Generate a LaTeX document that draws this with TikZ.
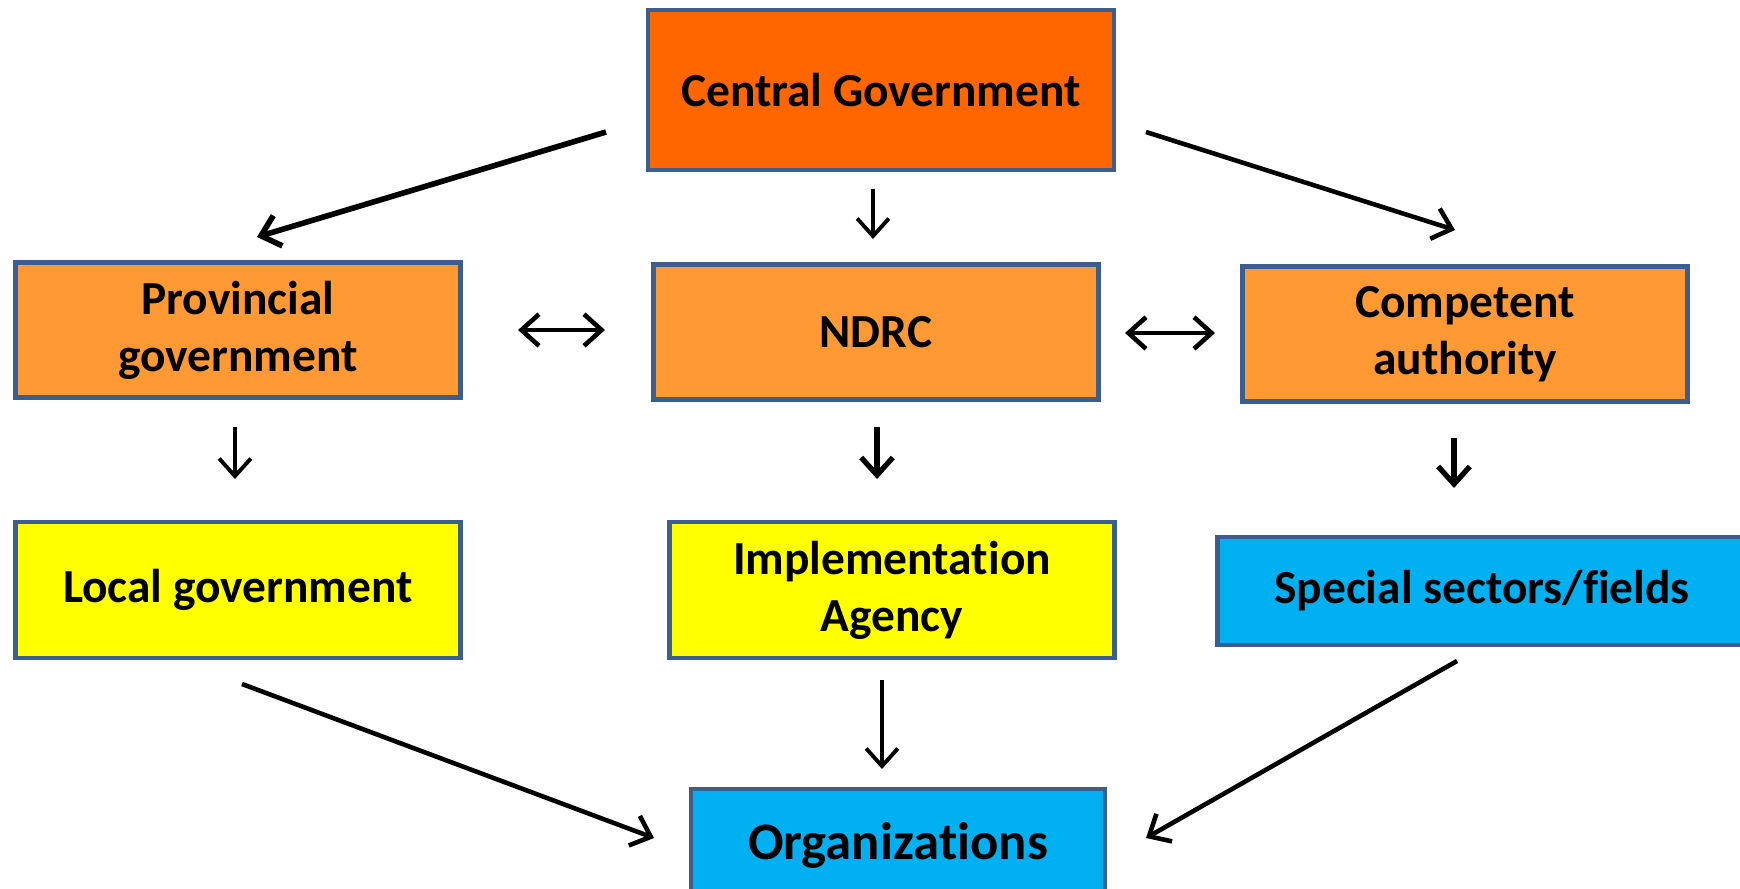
\documentclass[tikz,border=0pt]{standalone}
\usepackage{fontspec}
\setmainfont[Ligatures=NoCommon]{Carlito}
\usetikzlibrary{arrows.meta}

\definecolor{topfill}{HTML}{FF6600}
\definecolor{midfill}{HTML}{FF9933}
\definecolor{lowfill}{HTML}{FFFF00}
\definecolor{bluefill}{HTML}{00B0F0}
\definecolor{boxline}{HTML}{3B5E8C}

\tikzset{
    box/.style={draw=boxline, line width=1.4pt, align=center, inner sep=0pt,
        font=\fontsize{13.5}{16.2}\selectfont\bfseries},
    arr/.style={-{Straight Barb[length=5pt,width=9pt]}, line width=1.3pt},
    dblarr/.style={{Straight Barb[length=5pt,width=9pt]}-{Straight Barb[length=5pt,width=9pt]}, line width=1.3pt}
}

\begin{document}
\begin{tikzpicture}
    \useasboundingbox (0,0) rectangle (17.4,-8.89);
    \clip (0,0) rectangle (17.4,-8.89);

    % Draw the boxes
    \node[box, fill=topfill, minimum width=4.66cm, minimum height=1.60cm] (cg) at (8.81,-0.90) {Central Government};
    \node[box, fill=midfill, minimum width=4.45cm, minimum height=1.35cm] (pg) at (2.38,-3.30) {Provincial\\government};
    \node[box, fill=midfill, minimum width=4.45cm, minimum height=1.35cm] (ndrc) at (8.76,-3.32) {NDRC};
    \node[box, fill=midfill, minimum width=4.45cm, minimum height=1.35cm] (ca) at (14.65,-3.34) {Competent\\authority};
    \node[box, fill=lowfill, minimum width=4.45cm, minimum height=1.36cm] (lg) at (2.38,-5.90) {Local government};
    \node[box, fill=lowfill, minimum width=4.45cm, minimum height=1.36cm] (ia) at (8.92,-5.90) {Implementation\\Agency};
    \node[box, fill=bluefill, minimum width=5.29cm, minimum height=1.08cm] (ssf) at (14.82,-5.91) {Special sectors/fields};
    \node[box, fill=bluefill, minimum width=4.14cm, minimum height=1.12cm,
        font=\fontsize{15}{18}\selectfont\bfseries] (org) at (8.98,-8.45) {Organizations};

    % Free ends of the connectors
    \coordinate (cgL) at (6.06,-1.32);
    \coordinate (pgT) at (2.57,-2.37);
    \coordinate (cgB) at (8.73,-1.89);
    \coordinate (ndrcT) at (8.73,-2.39);
    \coordinate (cgR) at (11.46,-1.32);
    \coordinate (caT) at (14.55,-2.30);
    \coordinate (pgR) at (5.18,-3.30);
    \coordinate (ndrcL) at (6.05,-3.30);
    \coordinate (ndrcR) at (11.25,-3.33);
    \coordinate (caL) at (12.15,-3.33);
    \coordinate (pgB) at (2.35,-4.27);
    \coordinate (lgT) at (2.35,-4.79);
    \coordinate (ndrcB) at (8.77,-4.27);
    \coordinate (iaT) at (8.77,-4.79);
    \coordinate (caB) at (14.54,-4.38);
    \coordinate (ssfT) at (14.54,-4.88);
    \coordinate (lgB) at (2.42,-6.84);
    \coordinate (orgL) at (6.54,-8.38);
    \coordinate (iaB) at (8.82,-6.80);
    \coordinate (orgT) at (8.82,-7.69);
    \coordinate (ssfB) at (14.57,-6.61);
    \coordinate (orgR) at (11.46,-8.38);

    % Draw the arrows
    \draw[arr, line width=1.6pt] (cgL) -- (pgT);
    \draw[arr, line width=1.1pt] (cgB) -- (ndrcT);
    \draw[arr] (cgR) -- (caT);
    \draw[dblarr] (pgR) -- (ndrcL);
    \draw[dblarr] (ndrcR) -- (caL);
    \draw[arr, line width=1.1pt] (pgB) -- (lgT);
    \draw[arr, line width=1.5pt] (ndrcB) -- (iaT);
    \draw[arr, line width=1.5pt] (caB) -- (ssfT);
    \draw[arr] (lgB) -- (orgL);
    \draw[arr, line width=1.1pt] (iaB) -- (orgT);
    \draw[arr] (ssfB) -- (orgR);

\end{tikzpicture}
\end{document}
